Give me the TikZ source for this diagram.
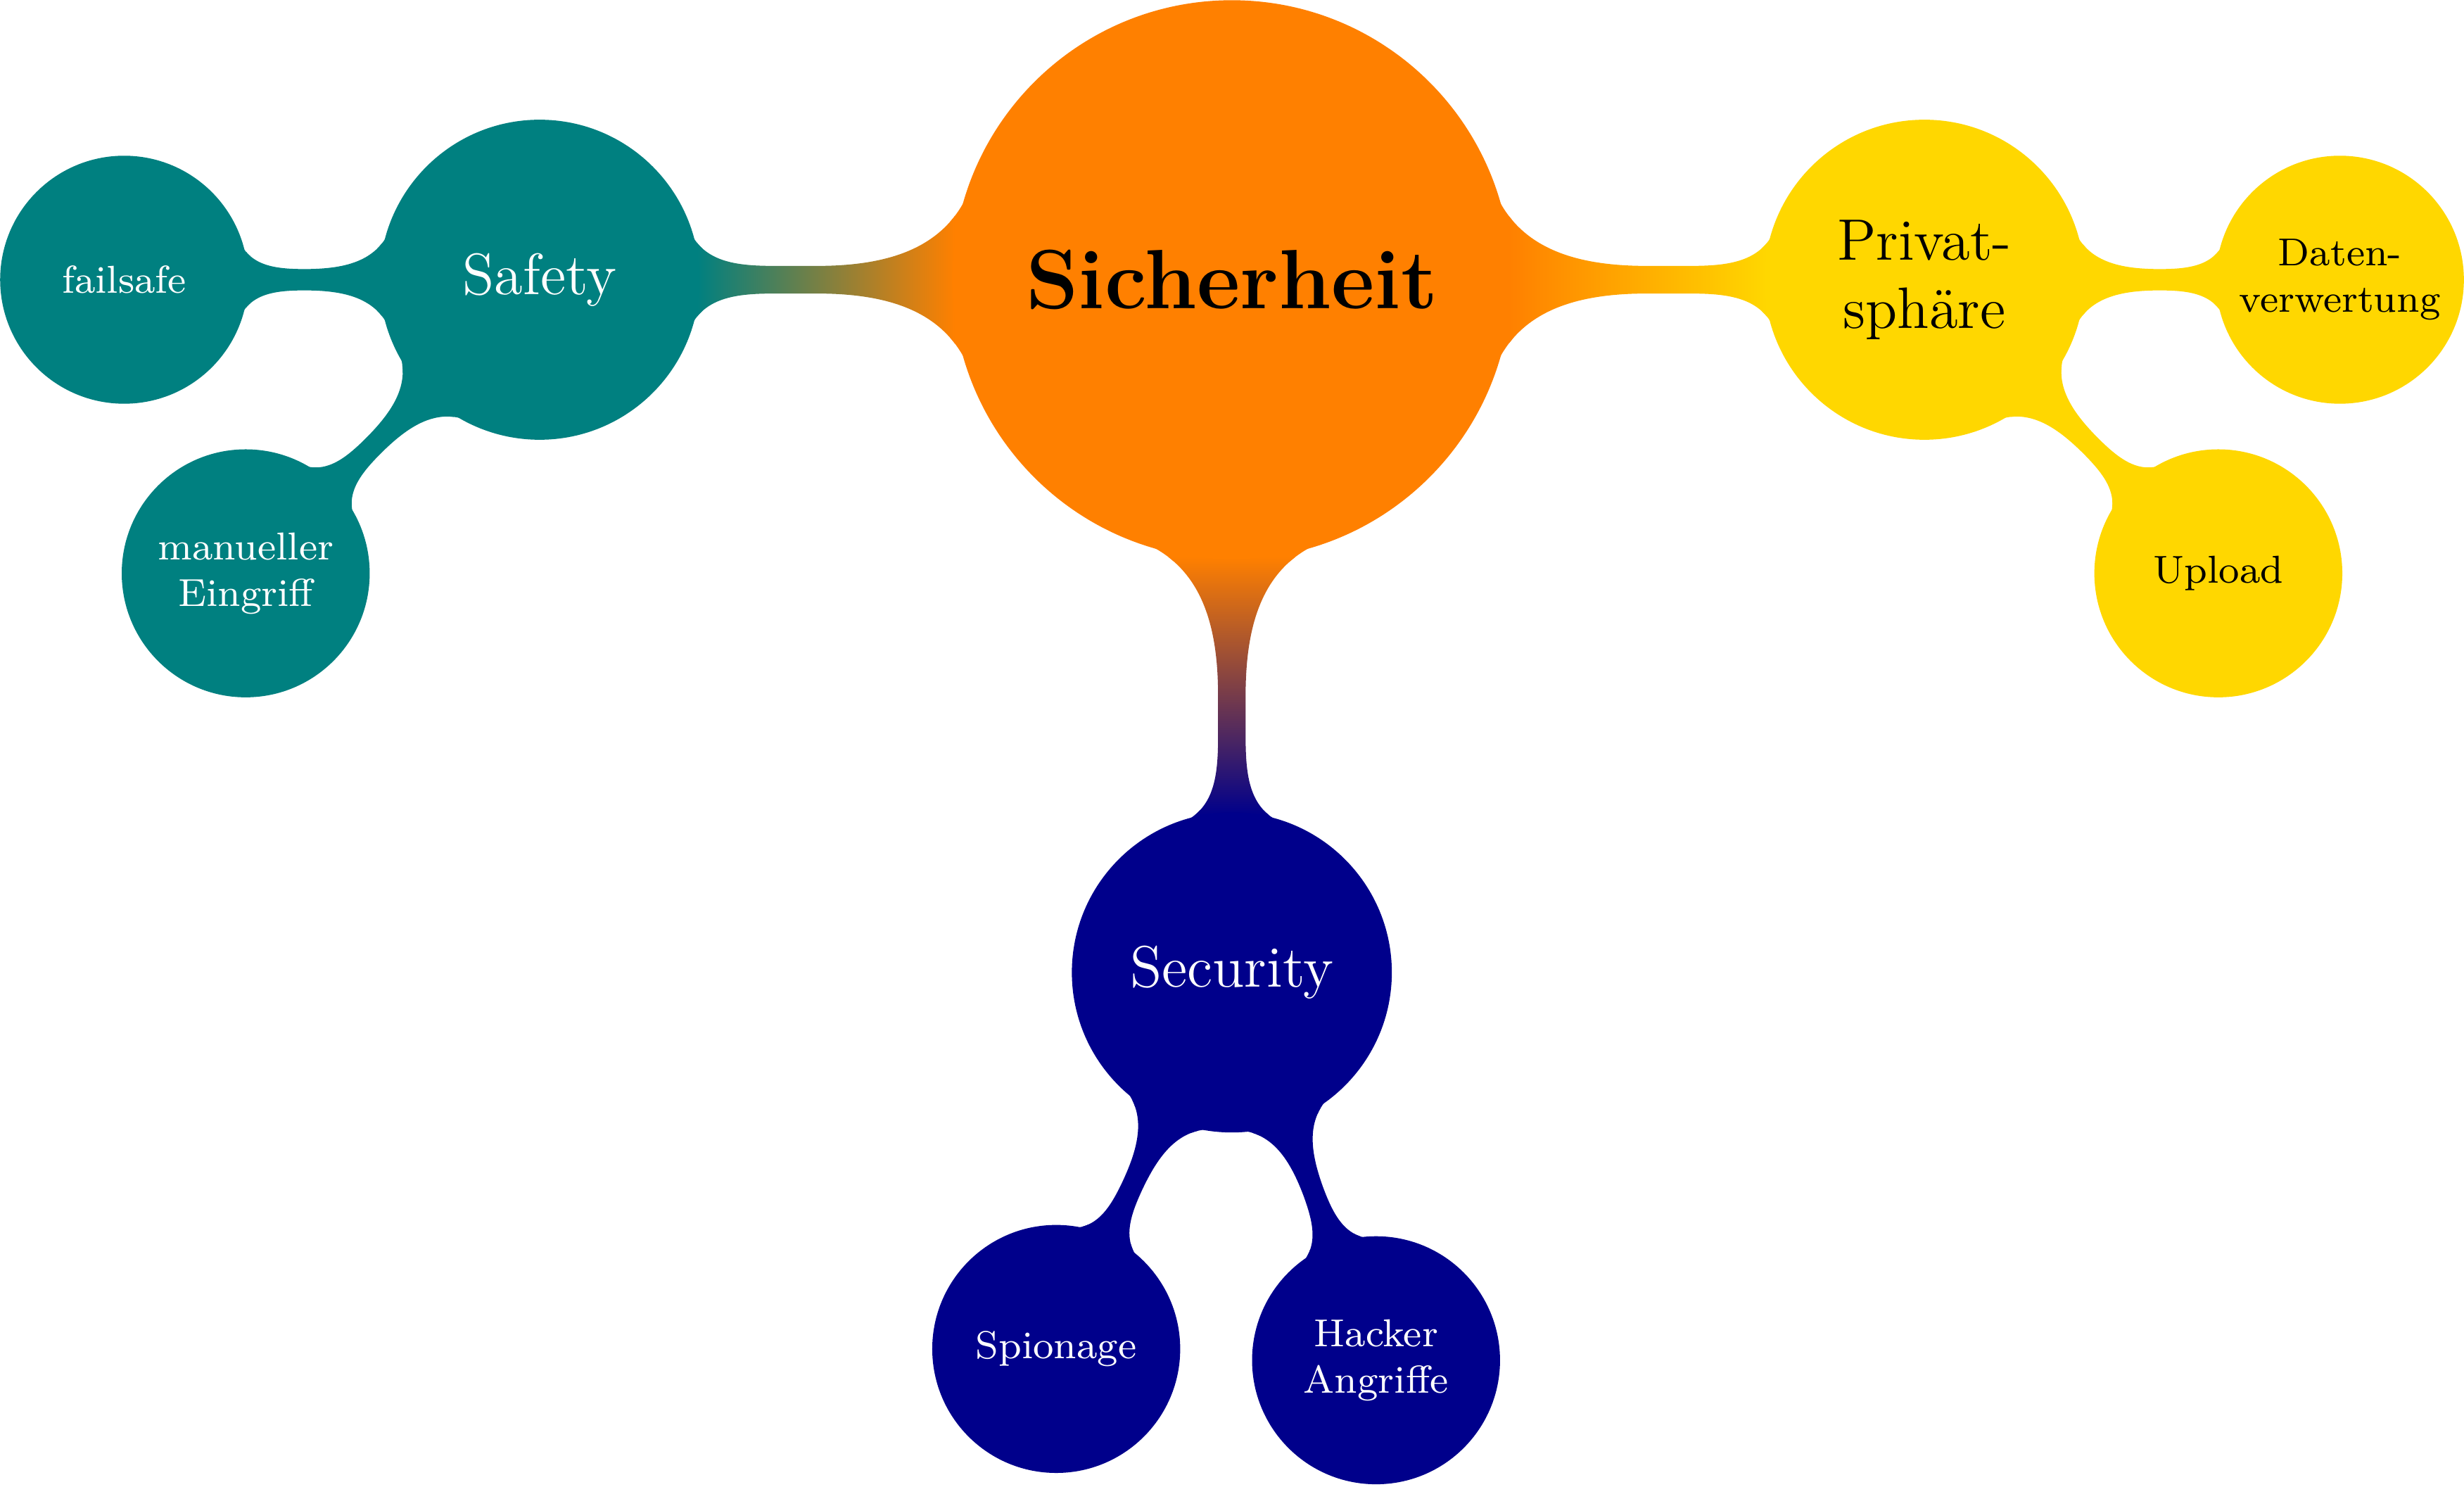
\documentclass[tikz,border=0pt]{standalone}
\usetikzlibrary{mindmap,backgrounds}

\definecolor{sichorange}{RGB}{255,128,0}
\definecolor{safeteal}{RGB}{0,128,128}
\definecolor{privgold}{RGB}{255,215,0}
\definecolor{secnavy}{RGB}{0,0,139}

\tikzset{every picture/.style={line width=0.75pt}}
\tikzset{
  rootidea/.style={circle,fill=#1,draw=#1,line width=1pt,outer sep=0pt,minimum size=4cm,inner sep=0pt,align=center,font=\LARGE\bfseries},
  mainidea/.style={circle,fill=#1,draw=#1,line width=1pt,outer sep=0pt,minimum size=2.275cm,inner sep=0pt,align=center,font=\large},
  subidea/.style={circle,fill=#1,draw=#1,line width=1pt,outer sep=0pt,minimum size=1.755cm,inner sep=0pt,align=center,font=\footnotesize},
  mainbar/.style={line width=2mm},
  subbar/.style={line width=1.65mm}
}

\begin{document}
\begin{tikzpicture}[x=0.75pt,y=0.75pt,yscale=-1,xscale=1]
    %set diagram left start at 0, width 675 and height 407
    \useasboundingbox (0,0) rectangle (674.9,407.2);

    % Root Node
    \node[rootidea=sichorange] (sicherheit) at (337.4,76.6) {Sicherheit};
    % Level 1 Nodes
    \node[mainidea=safeteal,text=white] (safety) at (147.8,76.6) {Safety};
    \node[mainidea=privgold] (privat) at (527.1,76.6) {Privat-\\sphäre};
    \node[mainidea=secnavy,text=white] (security) at (337.4,266.3) {Security};
    % Level 2 Nodes
    \node[subidea=safeteal,text=white] (failsafe) at (34.0,76.6) {failsafe};
    \node[subidea=safeteal,text=white] (eingriff) at (67.3,157.0) {manueller\\Eingriff};
    \node[subidea=privgold] (daten) at (640.9,76.6) {Daten-\\verwertung};
    \node[subidea=privgold] (upload) at (607.6,157.0) {Upload};
    \node[subidea=secnavy,text=white] (spionage) at (289.3,369.4) {Spionage};
    \node[subidea=secnavy,text=white] (hacker) at (376.9,372.5) {Hacker\\Angriffe};

    \begin{pgfonlayer}{background}
    %Connection Bars
    \path[mainbar] (sicherheit) to[circle connection bar switch color=from (sichorange) to (safeteal)] (safety);
    \path[mainbar] (sicherheit) to[circle connection bar switch color=from (sichorange) to (privgold)] (privat);
    \path[mainbar] (sicherheit) to[circle connection bar switch color=from (sichorange) to (secnavy)] (security);
    %Connection Bars
    \path[subbar] (safety) to[circle connection bar switch color=from (safeteal) to (safeteal)] (failsafe);
    \path[subbar] (safety) to[circle connection bar switch color=from (safeteal) to (safeteal)] (eingriff);
    \path[subbar] (privat) to[circle connection bar switch color=from (privgold) to (privgold)] (daten);
    \path[subbar] (privat) to[circle connection bar switch color=from (privgold) to (privgold)] (upload);
    \path[subbar] (security) to[circle connection bar switch color=from (secnavy) to (secnavy)] (spionage);
    \path[subbar] (security) to[circle connection bar switch color=from (secnavy) to (secnavy)] (hacker);
    \end{pgfonlayer}

\end{tikzpicture}
\end{document}
